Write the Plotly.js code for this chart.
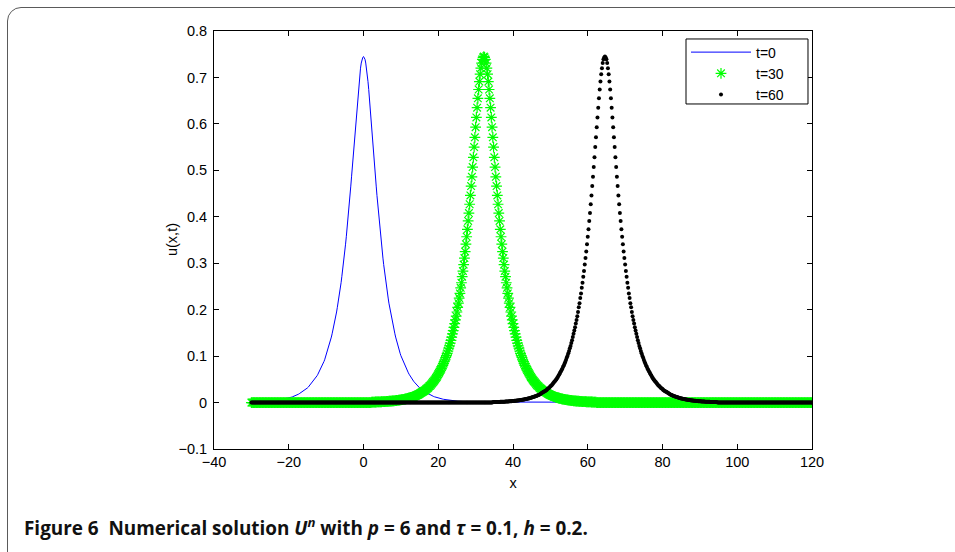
<!DOCTYPE html>
<html>
<head>
<meta charset="utf-8">
<script src="https://cdn.plot.ly/plotly-3.0.1.min.js"></script>
<style>
  html, body { margin: 0; padding: 0; background: #ffffff; }
  #frame { position: absolute; left: 7px; top: 7px; width: 1100px; height: 700px;
           border: 1.5px solid #5a5a5a; border-radius: 14px; box-sizing: border-box; }
  #plot { position: absolute; left: 0; top: 0; width: 955px; height: 552px; }
</style>
</head>
<body>
<div id="frame"></div>
<div id="plot"></div>
<script>
// Spatial grid (h = 0.2 from the caption): x from -30 to 120
const xStart = -30;
const h = 0.2;
const nPts = 751;

// Legend labels
const seriesNames = ['t=0', 't=30', 't=60'];
// Peak positions
const peakX = [0, 32.2, 64.6];

const pulse = [
0.0009,0.0010,0.0010,0.0011,0.0011,0.0012,0.0012,0.0013,0.0014,0.0014,
0.0015,0.0016,0.0016,0.0017,0.0018,0.0019,0.0020,0.0021,0.0022,0.0023,
0.0024,0.0025,0.0026,0.0028,0.0029,0.0030,0.0032,0.0033,0.0035,0.0037,
0.0038,0.0040,0.0042,0.0044,0.0046,0.0048,0.0051,0.0053,0.0056,0.0058,
0.0061,0.0064,0.0067,0.0070,0.0074,0.0077,0.0081,0.0085,0.0089,0.0093,
0.0098,0.0102,0.0107,0.0113,0.0118,0.0124,0.0129,0.0136,0.0142,0.0149,
0.0156,0.016,0.017,0.018,0.019,0.020,0.021,0.022,0.023,0.024,
0.025,0.026,0.027,0.029,0.030,0.0315,0.033,0.035,0.036,0.038,
0.040,0.042,0.044,0.046,0.048,0.050,0.053,0.055,0.058,0.061,
0.064,0.067,0.070,0.073,0.077,0.080,0.084,0.088,0.092,0.097,
0.101,0.106,0.111,0.117,0.122,0.128,0.134,0.141,0.148,0.155,
0.162,0.170,0.178,0.186,0.195,0.205,0.214,0.225,0.235,0.247,
0.258,0.271,0.283,0.297,0.311,0.325,0.341,0.357,0.373,0.391,
0.408,0.427,0.446,0.466,0.486,0.507,0.528,0.550,0.571,0.593,
0.614,0.635,0.655,0.674,0.691,0.707,0.720,0.731,0.739,0.743,
0.745,
0.743,0.739,0.731,0.720,0.707,0.691,0.674,0.655,0.635,0.614,
0.593,0.571,0.550,0.528,0.507,0.486,0.466,0.446,0.427,0.408,
0.391,0.373,0.357,0.341,0.325,0.311,0.297,0.283,0.271,0.258,
0.247,0.235,0.225,0.214,0.205,0.195,0.186,0.178,0.170,0.162,
0.155,0.148,0.141,0.134,0.128,0.122,0.117,0.111,0.106,0.101,
0.097,0.092,0.088,0.084,0.080,0.077,0.073,0.070,0.067,0.064,
0.061,0.058,0.055,0.053,0.050,0.048,0.046,0.044,0.042,0.040,
0.038,0.036,0.035,0.033,0.0315,0.030,0.029,0.027,0.026,0.025,
0.024,0.023,0.022,0.021,0.020,0.019,0.018,0.017,0.016,0.0156,
0.0149,0.0142,0.0136,0.0129,0.0124,0.0118,0.0113,0.0107,0.0102,0.0098,
0.0093,0.0089,0.0085,0.0081,0.0077,0.0074,0.0070,0.0067,0.0064,0.0061,
0.0058,0.0056,0.0053,0.0051,0.0048,0.0046,0.0044,0.0042,0.0040,0.0038,
0.0037,0.0035,0.0033,0.0032,0.0030,0.0029,0.0028,0.0026,0.0025,0.0024,
0.0023,0.0022,0.0021,0.0020,0.0019,0.0018,0.0017,0.0016,0.0016,0.0015,
0.0014,0.0014,0.0013,0.0012,0.0012,0.0011,0.0011,0.0010,0.0010,0.0009
];

// Axis ticks
const xTicks = [-40, -20, 0, 20, 40, 60, 80, 100, 120];
const yTicks = [-0.1, 0, 0.1, 0.2, 0.3, 0.4, 0.5, 0.6, 0.7, 0.8];

// Place the read profile on the grid at a given peak; the rest of the grid reads 0
function placePulse(peak) {
  const c = Math.round((peak - xStart) / h);
  const half = (pulse.length - 1) / 2;
  const y = new Array(nPts).fill(0);
  for (let i = 0; i < pulse.length; i++) {
    const j = c - half + i;
    if (j >= 0 && j < nPts) y[j] = pulse[i];
  }
  return y;
}

const FONT = 'Liberation Sans, Arial, Helvetica, sans-serif';

const traces = [
  { type: 'scatter', mode: 'lines', name: seriesNames[0], x0: xStart, dx: h,
    y: placePulse(peakX[0]), line: { color: '#0000ff', width: 1 } },
  { type: 'scatter', mode: 'markers', name: seriesNames[1], x0: xStart, dx: h,
    y: placePulse(peakX[1]),
    marker: { symbol: 'asterisk-open', size: 9, color: '#00ff00', line: { color: '#00ff00', width: 1.2 } } },
  { type: 'scatter', mode: 'markers', name: seriesNames[2], x0: xStart, dx: h,
    y: placePulse(peakX[2]),
    marker: { symbol: 'circle', size: 4, color: '#000000', line: { width: 0 } } }
];

const axisCommon = {
  showline: true, linecolor: '#000000', linewidth: 1, mirror: 'ticks',
  ticks: 'inside', ticklen: 5, tickwidth: 1, tickcolor: '#000000',
  showgrid: false, zeroline: false,
  tickfont: { family: FONT, size: 14.5, color: '#000000' }
};

const layout = {
  width: 955, height: 552,
  margin: { l: 214, r: 143, t: 31, b: 103, pad: 0 },
  paper_bgcolor: 'rgba(0,0,0,0)',
  plot_bgcolor: '#ffffff',
  showlegend: true,
  xaxis: Object.assign({}, axisCommon, {
    range: [-40, 120], tickvals: xTicks, automargin: false,
    title: { text: 'x', font: { family: FONT, size: 14.5, color: '#000000' }, standoff: 8 }
  }),
  yaxis: Object.assign({}, axisCommon, {
    range: [-0.1, 0.8], tickvals: yTicks, automargin: false, ticklabelstandoff: 3
  }),
  legend: {
    x: 0.7893, xanchor: 'left', y: 0.9868, yanchor: 'top',
    bgcolor: 'rgba(0,0,0,0)', borderwidth: 0,
    font: { family: FONT, size: 14, color: '#000000' },
    itemwidth: 60, traceorder: 'normal'
  },
  shapes: [{
    // legend frame
    type: 'rect', xref: 'paper', yref: 'paper', layer: 'above',
    x0: 0.7893, x1: 0.9933, y0: 0.8254, y1: 0.9809,
    line: { color: '#000000', width: 1 }, fillcolor: '#ffffff'
  }],
  annotations: [
    {
      xref: 'paper', yref: 'paper', x: -0.0702, y: 0.5, textangle: -90,
      xanchor: 'center', yanchor: 'middle', showarrow: false,
      text: 'u(x,t)', font: { family: FONT, size: 14.5, color: '#000000' }
    },
    {
      xref: 'paper', yref: 'paper', x: -0.321, y: -0.1866,
      xanchor: 'left', yanchor: 'middle', showarrow: false, align: 'left',
      text: '<b>Figure 6\u00a0\u00a0Numerical solution <i>U</i><sup><i>n</i></sup> with <i>p</i> = 6 and <i>\u03c4</i> = 0.1, <i>h</i> = 0.2.</b>',
      font: { family: 'Open Sans, Noto Sans, sans-serif', size: 18.9, color: '#111111' }
    }
  ]
};

Plotly.newPlot('plot', traces, layout, { displayModeBar: false, responsive: false });
</script>
</body>
</html>
